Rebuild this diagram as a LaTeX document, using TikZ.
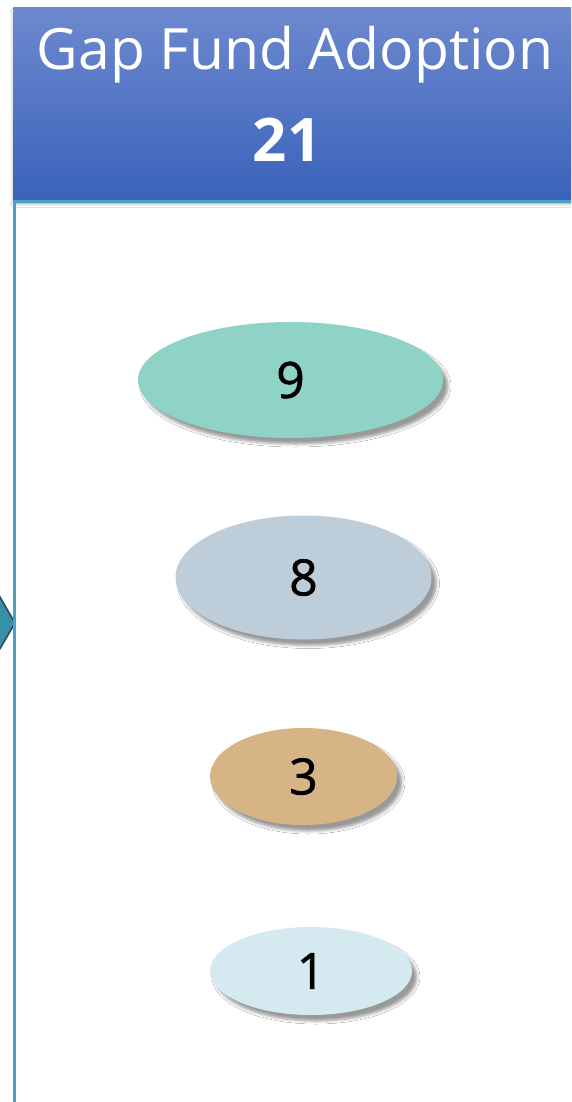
\documentclass[tikz,border=0pt]{standalone}
\usepackage{fontspec}
\setmainfont{Open Sans}
\usetikzlibrary{positioning,shapes.geometric,shadows.blur}
\definecolor{headTop}{HTML}{6D89CF}
\definecolor{headBottom}{HTML}{3A62BA}
\definecolor{frameColor}{HTML}{4AA2C2}
\definecolor{arrowFill}{HTML}{3A8FA8}
\definecolor{arrowLine}{HTML}{1E4A5A}
\definecolor{countA}{HTML}{8FD3C6}
\definecolor{countB}{HTML}{BDCDDA}
\definecolor{countC}{HTML}{D6B486}
\definecolor{countD}{HTML}{D5E9F0}
\tikzstyle{panel} = [x = 1pt, y = -1pt]
\tikzstyle{headerStyle} = [top color=headTop, bottom color=headBottom, blur shadow={shadow xshift=1pt, shadow yshift=-4pt, shadow blur radius=4pt}]
\tikzstyle{frameLine} = [color=frameColor, line width=3pt]
\tikzstyle{arrowStyle} = [fill=arrowFill, draw=arrowLine, line width=1.5pt, line join=miter]
\tikzstyle{headerText} = [text=white, inner sep=0pt]
\tikzstyle{countStyle} = [ellipse, inner sep=0pt, font=\fontsize{50}{50}\selectfont\addfontfeature{FakeBold=1.2},
  blur shadow={shadow xshift=5pt, shadow yshift=-6pt, shadow blur radius=3pt, shadow opacity=40}]
\newcommand{\countEllipse}[7]{\node [countStyle, fill=#6, minimum width=#4*2pt, minimum height=#5*2pt] (#1) at (#2,#3) {#7};}

\begin{document}
\begin{tikzpicture}[panel]
    \useasboundingbox (0,0) rectangle (571,1102);
    \clip (0,0) rectangle (571,1102);
    \fill [white] (0,0) rectangle (571,1102);
    % arrow coming in from the left
    \filldraw [arrowStyle] (-30,545) -- (15,623) -- (-30,700) -- cycle;
    % header
    \path [headerStyle] (13,8) rectangle (590,199);
    \node [headerText, font=\fontsize{57}{57}\selectfont] (title) at (295,55) {Gap Fund Adoption};
    \node [headerText, font=\fontsize{60}{60}\selectfont\bfseries] (total) at (287,140) {21};
    \draw [frameLine] (13,201) -- (590,201);
    \draw [frameLine] (14,201) -- (14,1110);
    % counts
    \countEllipse{nine}{290.5}{380}{152.5}{58}{countA}{9}
    \countEllipse{eight}{303.5}{577.5}{128}{62}{countB}{8}
    \countEllipse{three}{303.5}{776.5}{93.5}{48.5}{countC}{3}
    \countEllipse{one}{311}{971}{101}{44}{countD}{1}
\end{tikzpicture}
\end{document}
